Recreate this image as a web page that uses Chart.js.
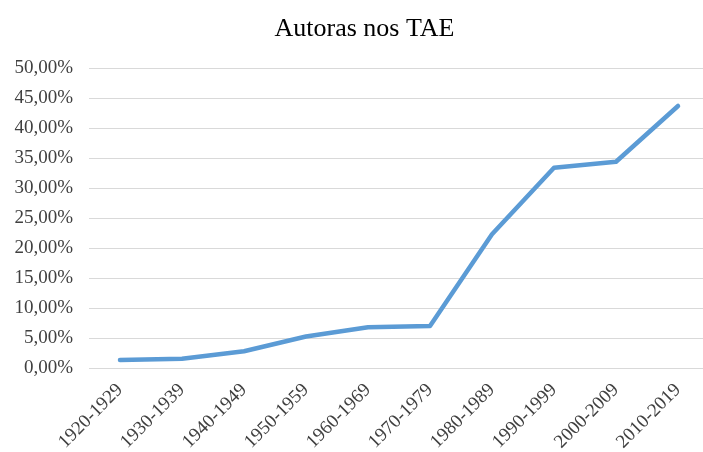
<!DOCTYPE html>
<html>
<head>
<meta charset="utf-8">
<script src="https://cdn.jsdelivr.net/npm/chart.js@4"></script>
<style>
  html, body { margin: 0; padding: 0; background: #fff; overflow: hidden; }
  #wrap { width: 712px; height: 452px; }
</style>
</head>
<body>
<div id="wrap"><canvas id="myChart"></canvas></div>
<script>
'use strict';

const decades = ['1920-1929', '1930-1939', '1940-1949', '1950-1959', '1960-1969',
  '1970-1979', '1980-1989', '1990-1999', '2000-2009', '2010-2019'];
const autoras = [1.33, 1.55, 2.8, 5.25, 6.8, 7.0, 22.3, 33.4, 34.4, 43.7];
const yMin = 0;
const yMax = 50;
const yStep = 5;

function formatPercent(value) {
  return value.toFixed(2).replace('.', ',') + '%';
}

// nudge the title a bit to the right, like the original
const titleShift = {
  id: 'titleShift',
  afterLayout(chart) {
    if (chart.titleBlock) {
      chart.titleBlock.left += 20;
    }
  }
};

const data = {
  labels: decades,
  datasets: [{
    label: 'Autoras',
    data: autoras,
    borderColor: '#5b9bd5',
    backgroundColor: '#5b9bd5',
    borderWidth: 4.5,
    borderCapStyle: 'round',
    borderJoinStyle: 'round',
    pointRadius: 0,
    tension: 0,
    fill: false
  }]
};

const config = {
  type: 'line',
  data: data,
  plugins: [titleShift],
  options: {
    responsive: true,
    maintainAspectRatio: false,
    animation: false,
    layout: {
      padding: { left: 0, right: 3, top: 0, bottom: 0 }
    },
    plugins: {
      legend: { display: false },
      tooltip: { enabled: false },
      title: {
        display: true,
        text: 'Autoras nos TAE',
        color: '#000',
        font: { family: 'Liberation Serif', size: 26, weight: 'normal' },
        padding: { top: 14, bottom: 23 }
      }
    },
    scales: {
      x: {
        offset: true,
        grid: { display: false },
        border: { display: false },
        ticks: {
          color: '#404040',
          font: { family: 'Liberation Serif', size: 19 },
          minRotation: 45,
          maxRotation: 45,
          padding: 3
        },
        afterFit: function (scale) {
          scale.height = 84;
        }
      },
      y: {
        min: yMin,
        max: yMax,
        grid: { color: '#d9d9d9', lineWidth: 1, drawTicks: false },
        border: { display: false },
        ticks: {
          stepSize: yStep,
          color: '#404040',
          font: { family: 'Liberation Serif', size: 19 },
          padding: 16,
          callback: function (value) {
            return formatPercent(value);
          }
        },
        afterFit: function (scale) {
          scale.width = 89;
        }
      }
    }
  }
};

let canvasChart = document.getElementById('myChart');
const myChart = new Chart(canvasChart, config);
</script>
</body>
</html>
